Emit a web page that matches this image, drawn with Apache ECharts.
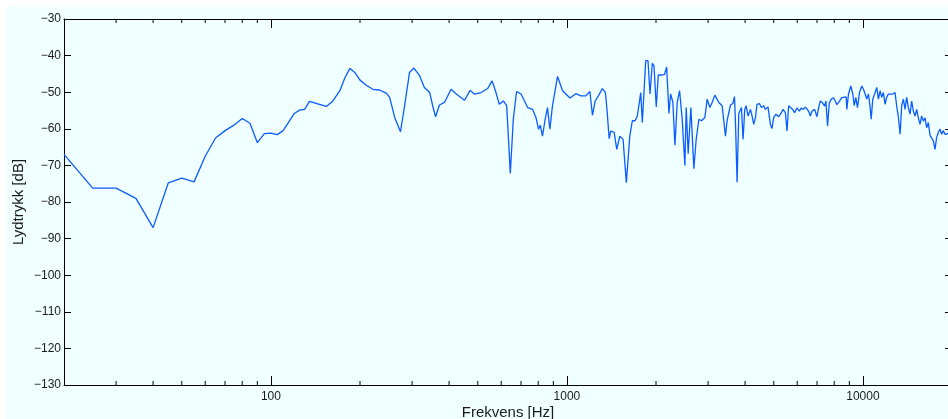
<!DOCTYPE html>
<html>
<head>
<meta charset="utf-8">
<script src="https://cdn.jsdelivr.net/npm/echarts@6/dist/echarts.min.js"></script>
<style>
  html, body { margin: 0; padding: 0; background: #ffffff; width: 948px; height: 419px; overflow: hidden; }
  #chart { position: absolute; left: 6px; top: 7px; width: 942px; height: 412px; }
</style>
</head>
<body>
<div id="chart"></div>
<script>
// Frequency response measurement (Hz -> dB)
const freqHz = [
  20, 25, 30, 35, 40, 45, 50, 55, 60, 65, 70, 75, 80, 85, 90, 95, 100, 105, 110, 120,
  125, 130, 135, 143, 154, 162, 171, 178, 185, 192, 200, 210, 221, 233, 246, 252, 262, 274, 283, 294,
  304, 318, 330, 344, 352, 360, 371, 386, 406, 423, 451, 471, 487, 513, 540, 559, 576, 591, 610, 626,
  644, 659, 676, 700, 737, 766, 786, 802, 813, 827, 843, 860, 876, 894, 930, 967, 1024, 1072, 1115, 1159,
  1196, 1220, 1246, 1278, 1318, 1349, 1367, 1389, 1407, 1444, 1474, 1509, 1548, 1588, 1631, 1664, 1699, 1730, 1776, 1798,
  1846, 1879, 1909, 1943, 1969, 2004, 2036, 2100, 2139, 2173, 2212, 2241, 2281, 2317, 2359, 2403, 2452, 2504, 2530, 2569,
  2623, 2685, 2734, 2792, 2851, 2925, 2978, 3041, 3095, 3161, 3260, 3345, 3434, 3477, 3570, 3635, 3683, 3712, 3758, 3808,
  3888, 3937, 3989, 4030, 4093, 4170, 4222, 4278, 4335, 4389, 4471, 4541, 4623, 4684, 4780, 4870, 4931, 4996, 5087, 5195,
  5305, 5371, 5472, 5541, 5614, 5688, 5791, 5881, 5987, 6100, 6195, 6293, 6391, 6557, 6643, 6727, 6869, 6993, 7086, 7180,
  7309, 7424, 7499, 7598, 7699, 7819, 7960, 8066, 8166, 8320, 8489, 8601, 8783, 8825, 8942, 9102, 9246, 9347, 9463, 9589,
  9740, 9916, 10047, 10180, 10307, 10444, 10582, 10665, 10798, 10999, 11136, 11284, 11433, 11576, 11729, 11884, 12032, 12192, 12355, 12605,
  12842, 13003, 13183, 13357, 13524, 13702, 13883, 14057, 14245, 14433, 14614, 14806, 15005, 15193, 15394, 15598, 15793, 16005, 16218, 16420,
  16637, 16857, 17069, 17298, 17524, 17745, 17979, 18220, 18450, 18690, 18938, 19176, 20000
];

const levelDb = [
  -67, -76.2, -76.2, -79, -87, -74.8, -73.5, -74.5, -67.5, -62.5, -60.5, -59, -57.2, -58.5, -63.8, -61.3, -61.2, -61.6, -60.5, -55.8,
  -54.9, -54.7, -52.5, -53.1, -53.9, -52.4, -49.6, -46, -43.5, -44.6, -46.7, -48.1, -49.2, -49.4, -50.3, -51.5, -56.9, -60.8, -53.7, -44.6,
  -43.4, -45.5, -48.7, -50.1, -53.7, -56.7, -53.5, -52.8, -49.2, -50.5, -52.2, -49.5, -50.5, -50.1, -49, -46.9, -50.1, -53.3, -52.4, -53.7,
  -72.2, -57.4, -49.8, -50.5, -54.2, -54.7, -56.9, -60.1, -59, -62, -57.8, -54.2, -60.1, -53.7, -45.7, -49.6, -51.6, -50.4, -51, -51,
  -49.8, -56.3, -52.4, -51, -49, -50.1, -55, -62.7, -60.6, -61, -65.6, -62, -62.9, -74.7, -62, -57.8, -57.8, -56.5, -50.1, -58.3,
  -41.4, -41.4, -50.5, -42.1, -42.8, -54, -45.3, -45.3, -45.1, -43.1, -55.8, -50.5, -52.8, -64.5, -52.8, -49.6, -57.4, -70, -54.2, -66.8,
  -54.2, -70.9, -62.9, -57.4, -57.8, -56.9, -51.9, -54.2, -52.8, -50.8, -52.8, -53.7, -62, -57.8, -53.5, -53.1, -51.2, -58.5, -74.6, -55.8,
  -54.2, -62.9, -54.7, -53.7, -56.5, -54.7, -56.5, -58.8, -56.9, -53.3, -53.1, -54.2, -53.7, -54.7, -54, -58.8, -59.9, -56.9, -56, -56.7,
  -55.6, -54.7, -55.6, -60.6, -53.7, -53.4, -54.7, -55.6, -54.3, -55.2, -54.3, -54.7, -54.1, -55.2, -56.5, -55.2, -54.7, -56.7, -54.3, -52.4,
  -52.9, -53.8, -52.4, -59.2, -52.9, -51.9, -51.5, -52.4, -53.4, -52.5, -51.5, -51.9, -51.3, -54.7, -50.5, -48.3, -50.5, -53.7, -51.4, -54.2,
  -50.1, -48.3, -49.2, -50.5, -51.9, -50.5, -54.2, -57.4, -51.9, -50.1, -48.7, -51.9, -49.6, -51.4, -50.1, -53.3, -51.4, -50.5, -51, -50.5,
  -50.1, -53.7, -56.9, -61.5, -53.7, -51.9, -54.7, -51.4, -54.2, -56, -52.4, -55.2, -56.5, -54.7, -57, -58.8, -56.5, -57.9, -57, -59.7,
  -58.3, -61.8, -62, -63.3, -65.6, -62.4, -61, -60.1, -61.5, -60.5, -61.5, -61.2, -61
];

// Axis ranges and tick positions
const freqMin = 20, freqMax = 20000;
const dbMin = -130, dbMax = -30, dbStep = 10;
const decadeLabels = [100, 1000, 10000];
const minorTickHz = [30, 40, 50, 60, 70, 80, 90, 200, 300, 400, 500, 600, 700, 800, 900,
  2000, 3000, 4000, 5000, 6000, 7000, 8000, 9000];

const lineColor = '#0b5cff';
const inkColor = '#000000';
const textColor = '#1a1a1a';
const fontFamily = '"Liberation Sans", Arial, Helvetica, sans-serif';

const chart = echarts.init(document.getElementById('chart'), null, { renderer: 'canvas' });

const minus = v => (v < 0 ? '\u2212' + Math.abs(v) : String(v));

const xBase = {
  type: 'log',
  logBase: 10,
  min: freqMin,
  max: freqMax,
  splitLine: { show: false },
  axisLine: { show: true, lineStyle: { color: inkColor, width: 1 } }
};
const yBase = {
  type: 'value',
  min: dbMin,
  max: dbMax,
  interval: dbStep,
  splitLine: { show: false },
  axisLine: { show: true, lineStyle: { color: inkColor, width: 1 } },
  axisTick: { show: true, inside: true, length: 7, lineStyle: { color: inkColor } }
};

// Short log-spaced tick marks along the top and bottom frame
function renderMinorTick(params, api) {
  const f = api.value(0);
  const bottom = api.coord([f, dbMin]);
  const top = api.coord([f, dbMax]);
  const style = { stroke: inkColor, lineWidth: 1 };
  return {
    type: 'group',
    children: [
      { type: 'line', shape: { x1: bottom[0], y1: bottom[1], x2: bottom[0], y2: bottom[1] - 4 }, style },
      { type: 'line', shape: { x1: top[0], y1: top[1], x2: top[0], y2: top[1] + 4 }, style }
    ]
  };
}

chart.setOption({
  backgroundColor: '#f0ffff',
  animation: false,
  grid: { left: 58, top: 12, width: 888, height: 366, containLabel: false, outerBoundsMode: 'none' },
  xAxis: [
    Object.assign({}, xBase, {
      position: 'bottom',
      name: 'Frekvens [Hz]',
      nameLocation: 'middle',
      nameGap: 20,
      nameMoveOverlap: false,
      nameTextStyle: { color: textColor, fontSize: 15, fontFamily },
      axisTick: { show: true, inside: true, length: 9, lineStyle: { color: inkColor } },
      axisLabel: {
        show: true, margin: 6, color: textColor, fontSize: 12, fontFamily,
        showMinLabel: false, showMaxLabel: false,
        formatter: v => (decadeLabels.indexOf(Math.round(v)) >= 0 ? String(Math.round(v)) : '')
      }
    }),
    Object.assign({}, xBase, {
      position: 'top',
      axisTick: { show: true, inside: true, length: 9, lineStyle: { color: inkColor } },
      axisLabel: { show: false }
    })
  ],
  yAxis: [
    Object.assign({}, yBase, {
      position: 'left',
      name: 'Lydtrykk [dB]',
      nameLocation: 'middle',
      nameGap: 38,
      nameMoveOverlap: false,
      nameRotate: 90,
      nameTextStyle: { color: textColor, fontSize: 15, fontFamily },
      axisLabel: { show: true, margin: 3, color: textColor, fontSize: 12, fontFamily, formatter: minus }
    }),
    Object.assign({}, yBase, {
      position: 'right',
      axisLabel: { show: false }
    })
  ],
  series: [
    {
      type: 'custom',
      xAxisIndex: 0,
      yAxisIndex: 0,
      silent: true,
      clip: false,
      renderItem: renderMinorTick,
      data: minorTickHz.map(f => [f, dbMin])
    },
    {
      type: 'line',
      xAxisIndex: 0,
      yAxisIndex: 0,
      showSymbol: false,
      symbol: 'none',
      smooth: false,
      lineStyle: { color: lineColor, width: 1.3 },
      data: freqHz.map((f, i) => [f, levelDb[i]])
    }
  ]
});
</script>
</body>
</html>
